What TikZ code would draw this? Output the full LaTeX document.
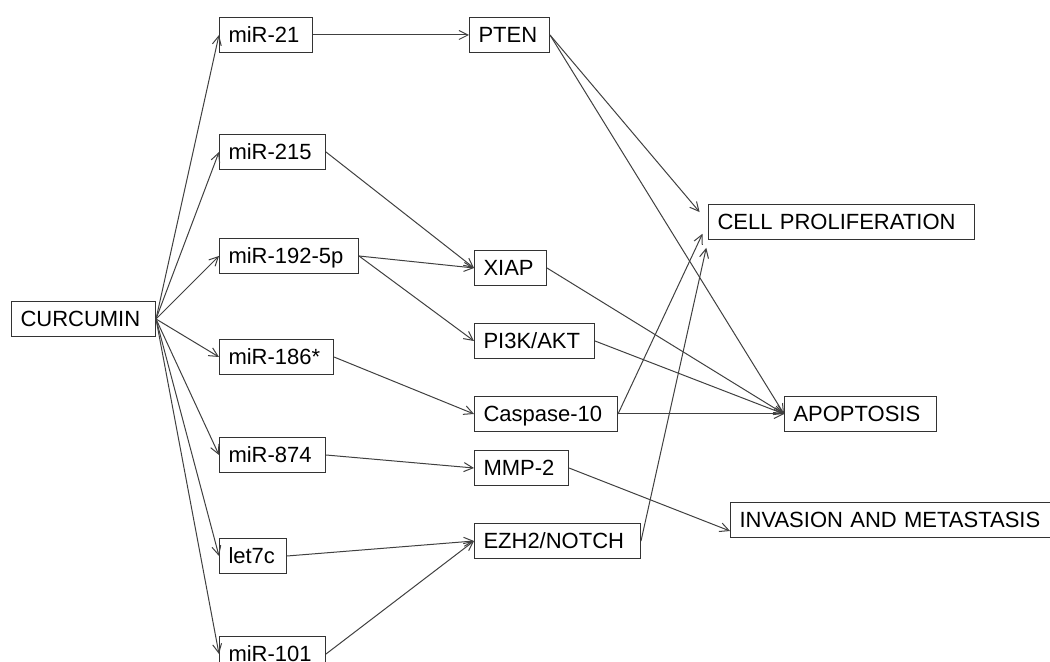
\documentclass[tikz,border=0pt]{standalone}
\usepackage{fontspec}
\setmainfont{Liberation Sans}
\usetikzlibrary{positioning,arrows.meta}

\begin{document}
\begin{tikzpicture}[x=0.5pt,y=-0.5pt,
	nodeb/.style={
	  draw=black!80,
	  line width=0.5pt,
	  font=\fontsize{11}{13}\selectfont,
	  align=left,
	  inner xsep=4.5pt,
	  inner ysep=0pt,
	  text height=12.5pt,
	  text depth=5pt
	},
	arrb/.style={
	  draw=black!75,
	  line width=0.5pt,
	  -{Straight Barb[length=4.5pt,width=4.5pt]}
	}]

	\useasboundingbox (0,0) rectangle (1050,662);

	\node[nodeb,anchor=west,text width=63pt] (Curcumin) at (11,319) {CURCUMIN};

	\node[nodeb,anchor=west,text width=37.5pt] (Mir21) at (219,35) {miR-21};
	\node[nodeb,below=40.5pt of Mir21.south west,anchor=north west,text width=44pt] (Mir215) {miR-215};
	\node[nodeb,below=34pt of Mir215.south west,anchor=north west,text width=60.5pt] (Mir192) {miR-192-5p};
	\node[nodeb,below=32.5pt of Mir192.south west,anchor=north west,text width=48pt] (Mir186) {miR-186*};
	\node[nodeb,below=31pt of Mir186.south west,anchor=north west,text width=44pt] (Mir874) {miR-874};
	\node[nodeb,below=32.5pt of Mir874.south west,anchor=north west,text width=24.5pt] (Let7c) {let7c};
	\node[nodeb,below=31pt of Let7c.south west,anchor=north west,text width=44pt] (Mir101) {miR-101};

	\node[nodeb,right=78pt of Mir21,text width=31pt] (PTEN) {PTEN};
	\node[nodeb,anchor=west,text width=27pt] (XIAP) at (474,268) {XIAP};
	\node[nodeb,below=18.5pt of XIAP.south west,anchor=north west,text width=51pt] (PIK) {PI3K/AKT};
	\node[nodeb,below=18.5pt of PIK.south west,anchor=north west,text width=62.5pt] (Casp) {Caspase-10};
	\node[nodeb,below=9pt of Casp.south west,anchor=north west,text width=38pt] (MMP) {MMP-2};
	\node[nodeb,below=18.5pt of MMP.south west,anchor=north west,text width=74pt] (EZH) {EZH2/NOTCH};

	\node[nodeb,anchor=west,text width=124pt] (CellP) at (708,222) {CELL PROLIFERATION};
	\node[nodeb,right=83pt of Casp,text width=67pt] (Apop) {APOPTOSIS};
	\node[nodeb,anchor=west,text width=153pt] (Invasion) at (730,520) {INVASION AND METASTASIS};

	% curcumin to the miRNAs
	\draw[arrb] (Curcumin.east) -- (Mir21.west);
	\draw[arrb] (Curcumin.east) -- (Mir215.west);
	\draw[arrb] (Curcumin.east) -- (Mir192.west);
	\draw[arrb] (Curcumin.east) -- (Mir186.west);
	\draw[arrb] (Curcumin.east) -- (Mir874.west);
	\draw[arrb] (Curcumin.east) -- (Let7c.west);
	\draw[arrb] (Curcumin.east) -- (Mir101.west);

	% miRNAs to targets
	\draw[arrb] (Mir21.east) -- (PTEN.west);
	\draw[arrb] (Mir215.east) -- (XIAP.west);
	\draw[arrb] (Mir192.east) -- (XIAP.west);
	\draw[arrb] (Mir192.east) -- (PIK.west);
	\draw[arrb] (Mir186.east) -- (Casp.west);
	\draw[arrb] (Mir874.east) -- (MMP.west);
	\draw[arrb] (Let7c.east) -- (EZH.west);
	\draw[arrb] (Mir101.east) -- (EZH.west);

	% targets to outcomes
	\draw[arrb,shorten >=6.5pt] (PTEN.east) -- (CellP.west);
	\draw[arrb] (PTEN.east) -- (Apop.west);
	\draw[arrb] (XIAP.east) -- (Apop.west);
	\draw[arrb] (PIK.east) -- (Apop.west);
	\draw[arrb] (Casp.east) -- (Apop.west);
	\draw[arrb,shorten >=6.5pt] (Casp.east) -- (CellP.west);
	\draw[arrb,shorten >=4pt] (EZH.east) -- (CellP.south west);
	\draw[arrb] (MMP.east) -- ([yshift=-5.5pt]Invasion.west);
\end{tikzpicture}
\end{document}
